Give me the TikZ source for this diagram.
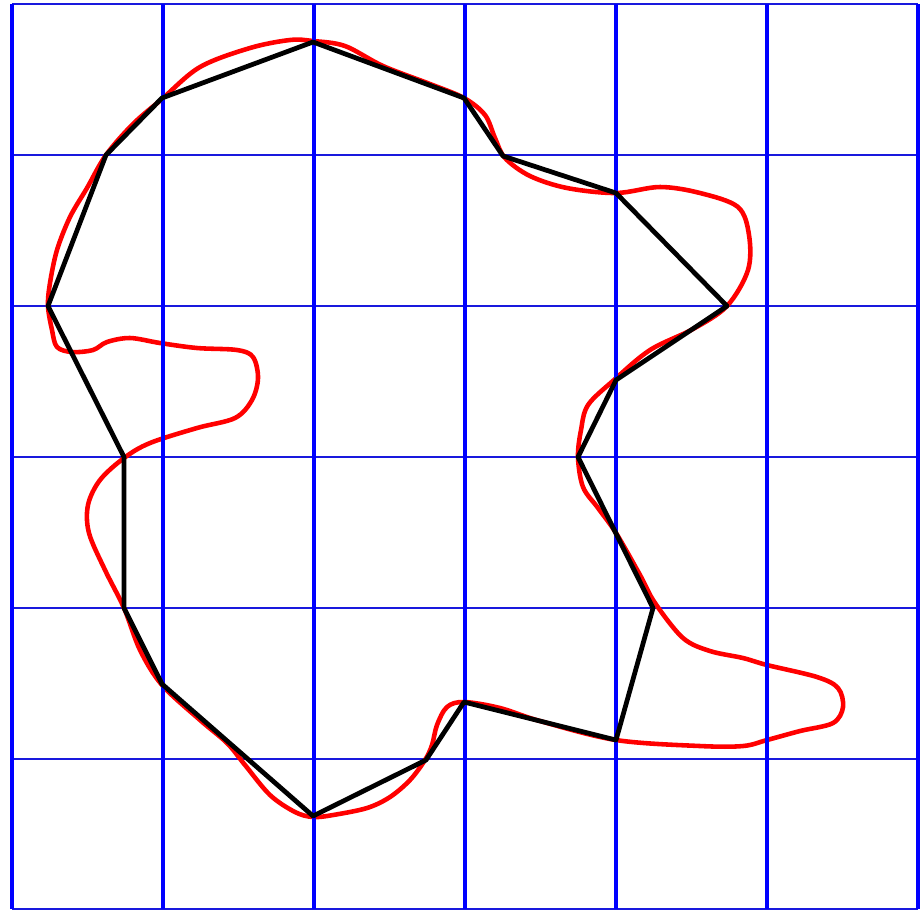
\documentclass[tikz,border=0pt]{standalone}
\begin{document}
\begin{tikzpicture}[x=0.01cm,y=-0.01cm,
  hline/.style={blue!85!black!90!white, line width=0.8pt},
  vline/.style={blue, line width=1.35pt},
  redcurve/.style={red, line width=1.3pt, line join=round},
  polyline/.style={black, line width=1.35pt, line join=round}]
\useasboundingbox (0,0) rectangle (922,911);
\fill[white] (0,0) rectangle (922,911);
% horizontal grid lines
\foreach \yy in {4,155,306,457,608,759,909}
  \draw[hline] (12,\yy) -- (918,\yy);
% red curve
\draw[redcurve] plot[smooth cycle, tension=0.55] coordinates {
(313,41) (345,46) (383,66) (430,84) (464,98) (485,115) (495,138) (505,158)
(530,176) (567,188) (616,193) (660,187) (700,193) (738,207) (749,235) (748,270)
(727,306) (693,329) (650,350) (614,380) (588,405) (581,430) (578,457) (583,487)
(598,508) (616,533) (640,575) (655,603) (683,638) (710,651) (743,658) (767,665)
(817,677) (838,688) (843,707) (833,723) (800,731) (767,740) (743,746) (700,746)
(616,740) (540,721) (500,708) (464,702) (447,707) (437,725) (432,745) (425,760)
(410,780) (390,797) (367,808) (333,815) (313,817) (295,812) (270,795) (245,765)
(227,743) (200,720) (162,685) (140,650) (124,608) (105,570) (89,533) (88,505)
(100,480) (124,458) (150,443) (197,428) (235,418) (252,400) (258,378) (253,357)
(237,350) (197,348) (160,343) (130,338) (107,342) (93,350) (72,352) (57,347)
(52,330) (48,306) (50,283) (57,250) (70,217) (87,188) (106,155) (133,124)
(162,99) (200,67) (250,48) (290,40)};
% vertical grid lines
\foreach \xx in {12,163,314,465,616,767,918}
  \draw[vline] (\xx,4) -- (\xx,909);
% polygon vertices
\coordinate (v1) at (313,42);
\coordinate (v2) at (464,98);
\coordinate (v3) at (503,156);
\coordinate (v4) at (616,193);
\coordinate (v5) at (727,306);
\coordinate (v6) at (616,380);
\coordinate (v7) at (578,457);
\coordinate (v8) at (653,608);
\coordinate (v9) at (616,740);
\coordinate (v10) at (464,702);
\coordinate (v11) at (426,760);
\coordinate (v12) at (313,816);
\coordinate (v13) at (162,684);
\coordinate (v14) at (124,608);
\coordinate (v15) at (124,457);
\coordinate (v16) at (48,306);
\coordinate (v17) at (106,155);
\coordinate (v18) at (162,98);
\draw[polyline] (v1) -- (v2) -- (v3) -- (v4) -- (v5) -- (v6) -- (v7) -- (v8) -- (v9)
  -- (v10) -- (v11) -- (v12) -- (v13) -- (v14) -- (v15) -- (v16) -- (v17) -- (v18) -- cycle;
\end{tikzpicture}
\end{document}
